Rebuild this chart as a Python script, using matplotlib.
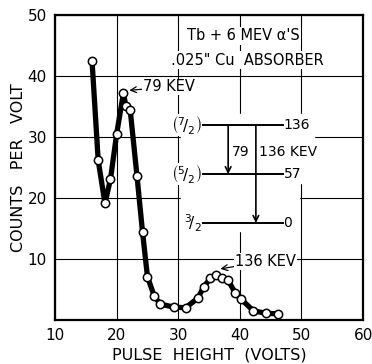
import matplotlib
matplotlib.use("Agg")
import matplotlib.pyplot as plt
from matplotlib.patches import Rectangle

# puntos medidos
volts = [16, 17, 18.1, 19, 20, 21.1, 21.5, 22.2, 23.3, 24.2, 25, 26.1, 27.1,
         29.3, 31.2, 33.2, 34.1, 35.2, 36.2, 37.1, 38.1, 39.2, 40.2, 42.2,
         44.2, 46.2]
counts = [42.5, 26.2, 19.1, 23.1, 30.5, 37.2, 35.0, 34.4, 23.6, 14.4, 7.1,
          3.9, 2.6, 2.1, 2.0, 3.6, 5.4, 6.8, 7.4, 6.9, 6.5, 4.5, 3.4, 1.5,
          1.1, 1.0]

xticks = [10, 20, 30, 40, 50, 60]
yticks = [10, 20, 30, 40, 50]

# esquema de niveles
level_energy = ['136', '57', '0']
level_spin = [r'$\left(^7\!/_2\right)$', r'$\left(^5\!/_2\right)$', r'$^3\!/_2$']
level_y = [32.0, 23.9, 15.9]

fig = plt.figure(figsize=(3.72, 3.64), dpi=100)
ax = fig.add_axes([0.148, 0.121, 0.828, 0.838])
ax.set_xlim(10, 60)
ax.set_ylim(0, 50)
ax.set_xticks(xticks)
ax.set_yticks(yticks)
ax.tick_params(length=0, labelsize=11, pad=6)
for s in ax.spines.values():
    s.set_linewidth(1.6)
ax.grid(True, color='k', linewidth=0.8, zorder=0)
ax.set_axisbelow(True)
ax.set_xlabel('PULSE  HEIGHT  (VOLTS)', fontsize=11.5, labelpad=3)
ax.set_ylabel('COUNTS   PER   VOLT', fontsize=11.5, labelpad=1)

# tapar la rejilla detras del diagrama
ax.add_patch(Rectangle((30.5, 14.5), 19.1, 19.3, color='white', zorder=1))
ax.add_patch(Rectangle((49.5, 22.5), 2.5, 11.3, color='white', zorder=1))

ax.plot(volts, counts, color='k', linewidth=3.8, zorder=3,
        solid_joinstyle='round')
ax.plot(volts, counts, 'o', markersize=6, markerfacecolor='white',
        markeredgecolor='k', markeredgewidth=1.1, zorder=4)

box = dict(facecolor='white', edgecolor='none', pad=1)
ax.text(40.6, 46.6, "Tb + 6 MEV \u03b1'S", ha='center', va='center',
        fontsize=10.5, bbox=box, zorder=2)
ax.text(41.2, 42.6, '.025" Cu  ABSORBER', ha='center', va='center',
        fontsize=10.5, bbox=box, zorder=2)

ax.annotate('79 KEV', xy=(21.6, 37.6), xytext=(24.3, 38.2), fontsize=10.5,
            va='center', ha='left', zorder=5,
            bbox=dict(facecolor='white', edgecolor='none', pad=0.5),
            arrowprops=dict(arrowstyle='->', color='k', lw=0.9,
                            shrinkA=0, shrinkB=2))
ax.annotate('136 KEV', xy=(36.4, 8.3), xytext=(39.2, 9.6), fontsize=10.5,
            va='center', ha='left', zorder=5,
            bbox=dict(facecolor='white', edgecolor='none', pad=0.5),
            arrowprops=dict(arrowstyle='->', color='k', lw=0.9,
                            shrinkA=0, shrinkB=2))

# niveles
for e, sp, yy in zip(level_energy, level_spin, level_y):
    ax.plot([34.0, 47.0], [yy, yy], color='k', linewidth=1.4, zorder=2)
    ax.text(47.1, yy, e, ha='left', va='center', fontsize=10, zorder=2)
    ax.text(33.8, yy, sp, ha='right', va='center', fontsize=11, zorder=2,
            bbox=dict(facecolor='white', edgecolor='none', pad=0))

ax.annotate('', xy=(38.1, level_y[1]), xytext=(38.1, level_y[0]),
            arrowprops=dict(arrowstyle='->', color='k', lw=1.2,
                            shrinkA=0, shrinkB=0), zorder=2)
ax.annotate('', xy=(42.6, level_y[2]), xytext=(42.6, level_y[0]),
            arrowprops=dict(arrowstyle='->', color='k', lw=1.2,
                            shrinkA=0, shrinkB=0), zorder=2)
ax.text(38.7, 27.5, '79', ha='left', va='center', fontsize=10, zorder=2)
ax.text(43.1, 27.5, '136 KEV', ha='left', va='center', fontsize=10, zorder=2)

fig.savefig('out.png', dpi=100)
